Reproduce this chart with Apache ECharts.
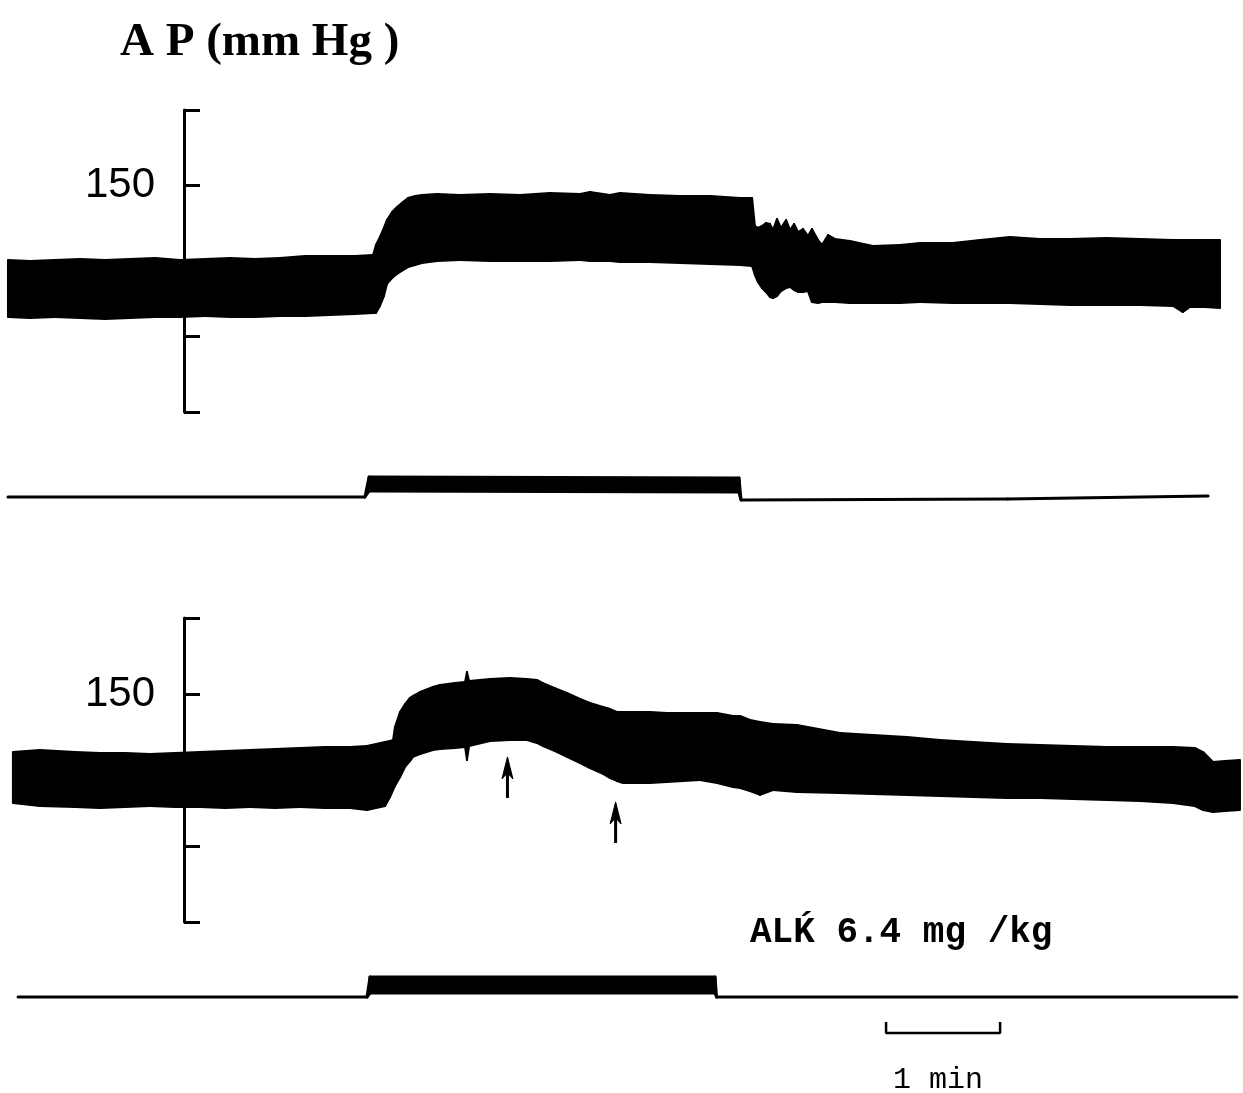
<!DOCTYPE html>
<html><head><meta charset="utf-8">
<script src="https://cdn.jsdelivr.net/npm/echarts@6/dist/echarts.min.js"></script>
<style>html,body{margin:0;padding:0;background:#fff}#c{width:1243px;height:1093px}</style>
</head><body><div id="c"></div>
<script>
// ---- Data (time in seconds, pressure in mmHg) ----
const labeledTicks = [150];

// Upper recording: arterial pressure envelope (systolic / diastolic)
const apTime1 = [4.2, 15.8, 28.9, 42.1, 55.2, 68.4, 81.6, 94.7, 107.9, 121.0, 134.2, 147.3, 160.5, 173.6, 186.8, 196.3, 197.8, 199.9, 202.0, 203.6, 206.3, 208.9, 212.0, 214.7, 218.4, 222.0, 229.9, 242.0, 257.8, 273.6, 289.4, 305.2, 310.4, 321.0, 326.2, 342.0, 357.8, 373.6, 389.4, 395.7, 397.2, 398.8, 400.9, 403.0, 405.1, 406.7, 408.8, 410.9, 413.6, 415.7, 417.8, 419.9, 422.5, 425.1, 427.2, 430.4, 432.5, 435.7, 439.3, 447.2, 459.3, 473.5, 484.1, 501.4, 515.6, 526.2, 531.4, 547.2, 563.0, 582.4, 599.8, 617.2, 622.4, 626.1, 634.0, 641.9];
const apSys1 = [100.7, 100.0, 100.7, 101.3, 100.7, 101.3, 102.0, 100.7, 101.3, 102.0, 101.3, 102.0, 103.3, 103.3, 103.3, 104.0, 110.6, 115.9, 121.9, 127.2, 132.5, 135.8, 139.1, 141.7, 143.0, 143.7, 144.4, 143.7, 144.4, 143.7, 145.0, 144.4, 145.7, 143.7, 145.0, 143.7, 143.0, 143.0, 141.7, 141.7, 123.2, 121.9, 123.2, 125.2, 124.5, 120.5, 127.8, 121.9, 127.2, 120.5, 124.5, 119.2, 121.2, 116.6, 121.2, 113.9, 110.6, 117.2, 114.6, 113.2, 109.9, 110.6, 111.9, 111.9, 113.9, 115.2, 115.9, 114.6, 114.6, 115.2, 114.6, 113.9, 113.9, 113.9, 113.9, 113.9];
const apDia1 = [62.9, 62.3, 62.9, 62.3, 61.6, 62.3, 62.9, 62.9, 63.6, 62.9, 62.9, 63.6, 63.6, 64.2, 64.9, 65.6, 65.6, 70.2, 76.8, 84.8, 88.7, 91.4, 94.0, 96.0, 97.4, 98.7, 100.0, 100.7, 100.0, 100.0, 100.0, 100.7, 100.0, 100.0, 99.3, 99.3, 98.7, 98.0, 97.4, 96.7, 90.7, 86.1, 82.1, 79.5, 76.2, 75.5, 76.8, 80.1, 82.1, 82.8, 80.8, 79.5, 79.5, 80.1, 72.8, 72.2, 72.8, 72.8, 72.8, 72.2, 72.2, 72.2, 72.8, 72.2, 72.2, 72.2, 72.2, 71.5, 70.9, 70.9, 70.9, 70.2, 66.2, 69.5, 69.5, 68.9];

// Upper stimulus marker (relative level)
const stimTime1 = [4.2, 192.0, 194.2, 388.8, 389.9, 530.0, 635.6];
const stimHigh1 = [0, 0, 1, 0.95, -0.15, -0.1, 0.05];
const stimLow1  = [0, 0, 0.3, 0.25, -0.15, -0.1, 0.05];

// Lower recording
const apTime2 = [6.8, 21.0, 39.5, 52.6, 65.8, 78.9, 92.1, 105.2, 118.4, 131.5, 144.7, 157.8, 171.0, 184.2, 193.1, 202.6, 205.2, 206.8, 207.8, 210.5, 213.1, 215.7, 217.3, 221.0, 227.8, 231.5, 239.4, 244.7, 245.7, 246.8, 257.8, 268.3, 277.3, 282.5, 285.7, 292.0, 298.3, 305.2, 310.4, 317.3, 321.0, 324.6, 327.8, 342.0, 350.9, 359.4, 368.3, 377.3, 385.7, 389.4, 394.6, 399.9, 406.7, 419.3, 442.0, 459.3, 477.2, 494.6, 511.9, 529.8, 547.2, 564.6, 582.4, 599.8, 617.2, 628.7, 633.0, 638.2, 644.5, 652.4];
const apSys2 = [111.8, 113.2, 111.8, 111.2, 111.2, 110.5, 111.2, 111.8, 112.5, 113.2, 113.8, 114.5, 115.1, 115.1, 115.8, 118.4, 119.1, 119.7, 128.3, 138.2, 143.4, 147.4, 148.7, 151.3, 154.6, 155.9, 157.2, 157.9, 164.5, 158.6, 159.9, 160.5, 159.9, 159.2, 157.2, 153.9, 150.7, 146.7, 144.1, 141.4, 140.1, 138.2, 138.2, 138.2, 137.5, 137.5, 137.5, 137.5, 135.5, 135.5, 132.9, 131.6, 130.3, 129.6, 124.3, 123.0, 121.7, 119.7, 118.4, 117.1, 116.4, 115.8, 115.1, 115.1, 115.1, 114.5, 111.8, 105.3, 105.9, 106.6];
const apDia2 = [78.3, 76.3, 75.7, 75.0, 75.7, 76.3, 75.7, 75.7, 75.0, 75.7, 75.0, 75.7, 75.0, 75.0, 73.7, 76.3, 82.2, 86.8, 89.5, 95.4, 102.0, 105.9, 108.6, 110.5, 113.2, 113.8, 114.5, 115.1, 106.6, 115.8, 119.1, 119.7, 119.7, 117.8, 115.8, 112.5, 108.6, 104.6, 101.3, 97.4, 94.7, 92.8, 91.4, 91.4, 92.1, 92.8, 93.4, 91.4, 88.8, 88.2, 86.2, 83.6, 86.8, 85.5, 84.9, 84.2, 83.6, 82.9, 82.2, 81.6, 81.6, 80.9, 80.3, 79.6, 78.3, 76.3, 73.7, 72.4, 73.0, 73.7];

// Arrows under the lower recording (time, tip level, tail level in mmHg)
const arrowTime = [267.0, 323.9];
const arrowTip  = [108.6, 79.0];
const arrowTail = [81.6, 52.0];

// Lower stimulus marker
const stimTime2 = [9.5, 193.1, 194.7, 376.2, 377.0, 650.8];
const stimHigh2 = [0, 0, 1, 1, 0, 0];
const stimLow2  = [0, 0, 0.2, 0.2, 0, 0];

// Time scale bar: 1 min
const scaleBarStart = 466.2;
const scaleBarSeconds = 60;
const scaleBarLevel = -1.8;
const scaleBarEndTick = -1.25;

// ---- Chart ----
const T_MAX = 654;

// Filled envelope between hi and lo, drawn through the axis scales (api.coord)
function band(idx, t, hi, lo, w) {
  return {
    type: 'custom', coordinateSystem: 'cartesian2d', xAxisIndex: idx, yAxisIndex: idx,
    silent: true, animation: false, clip: false,
    data: t.map((x, i) => [x, hi[i], lo[i]]),
    encode: {x: 0, y: [1, 2]},
    renderItem: function (params, api) {
      const i = params.dataIndex;
      if (i >= t.length - 1) return null;
      const pts = [
        api.coord([t[i], hi[i]]), api.coord([t[i + 1], hi[i + 1]]),
        api.coord([t[i + 1], lo[i + 1]]), api.coord([t[i], lo[i]])
      ];
      return {type: 'polygon', shape: {points: pts},
              style: {fill: '#000', stroke: '#000', lineWidth: w, lineJoin: 'round'}};
    }
  };
}

function arrows(idx) {
  return {
    type: 'custom', coordinateSystem: 'cartesian2d', xAxisIndex: idx, yAxisIndex: idx,
    silent: true, animation: false,
    data: arrowTime.map((x, i) => [x, arrowTip[i], arrowTail[i]]),
    encode: {x: 0, y: [1, 2]},
    renderItem: function (params, api) {
      const tip = api.coord([api.value(0), api.value(1)]);
      const tail = api.coord([api.value(0), api.value(2)]);
      const headLen = 22, headHalf = 5.5;
      return {type: 'group', children: [
        {type: 'line', shape: {x1: tip[0], y1: tip[1] + 6, x2: tail[0], y2: tail[1]},
         style: {stroke: '#000', lineWidth: 3}},
        {type: 'polygon', shape: {points: [
          [tip[0], tip[1]], [tip[0] + headHalf, tip[1] + headLen],
          [tip[0], tip[1] + headLen - 6], [tip[0] - headHalf, tip[1] + headLen]]},
         style: {fill: '#000', stroke: '#000', lineWidth: 1}}
      ]};
    }
  };
}

function apY(gi) {
  return {
    gridIndex: gi, type: 'value', min: 0, max: 200, interval: 50, position: 'left', offset: -184, z: 5,
    axisLine: {show: true, onZero: false, lineStyle: {color: '#000', width: 3}},
    axisTick: {show: true, inside: true, length: 16, lineStyle: {color: '#000', width: 3}},
    axisLabel: {show: true, margin: 29, color: '#000', fontSize: 42, fontFamily: 'Liberation Sans',
      formatter: v => labeledTicks.includes(v) ? String(v) : ''},
    splitLine: {show: false}
  };
}
function hiddenY(gi, mn, mx) {
  return {gridIndex: gi, type: 'value', min: mn, max: mx, show: false, splitLine: {show: false}};
}
function hiddenX(gi) {
  return {gridIndex: gi, type: 'value', min: 0, max: T_MAX, show: false, splitLine: {show: false}};
}

const chart = echarts.init(document.getElementById('c'), null, {renderer: 'canvas'});
chart.setOption({
  animation: false,
  backgroundColor: '#fff',
  grid: [
    {left: 0, right: 0, top: 110, height: 302},
    {left: 0, right: 0, top: 477, height: 30},
    {left: 0, right: 0, top: 618, height: 304},
    {left: 0, right: 0, top: 977, height: 80}
  ],
  xAxis: [hiddenX(0), hiddenX(1), hiddenX(2), hiddenX(3)],
  yAxis: [apY(0), hiddenY(1, -0.5, 1), apY(2), hiddenY(3, -3, 1)],
  series: [
    band(0, apTime1, apSys1, apDia1, 2),
    band(1, stimTime1, stimHigh1, stimLow1, 3),
    band(2, apTime2, apSys2, apDia2, 2),
    arrows(2),
    band(3, stimTime2, stimHigh2, stimLow2, 3),
    {type: 'line', xAxisIndex: 3, yAxisIndex: 3, symbol: 'none', silent: true, animation: false,
     lineStyle: {color: '#000', width: 2.5},
     data: [[scaleBarStart, scaleBarEndTick], [scaleBarStart, scaleBarLevel],
            [scaleBarStart + scaleBarSeconds, scaleBarLevel], [scaleBarStart + scaleBarSeconds, scaleBarEndTick]]}
  ],
  graphic: [
    {type: 'text', left: 120, top: 19, silent: true,
     style: {text: 'A P (mm Hg )', fill: '#000', font: 'bold 47px "Liberation Serif"'}},
    {type: 'text', left: 750, top: 915, silent: true,
     style: {text: 'ALḰ 6.4 mg /kg', fill: '#000', font: 'bold 36px "Liberation Mono", "DejaVu Sans Mono", monospace'}},
    {type: 'text', left: 893, top: 1065, silent: true,
     style: {text: '1 min', fill: '#000', font: '30px "Liberation Mono", "DejaVu Sans Mono", monospace'}}
  ]
});
</script>
</body></html>
